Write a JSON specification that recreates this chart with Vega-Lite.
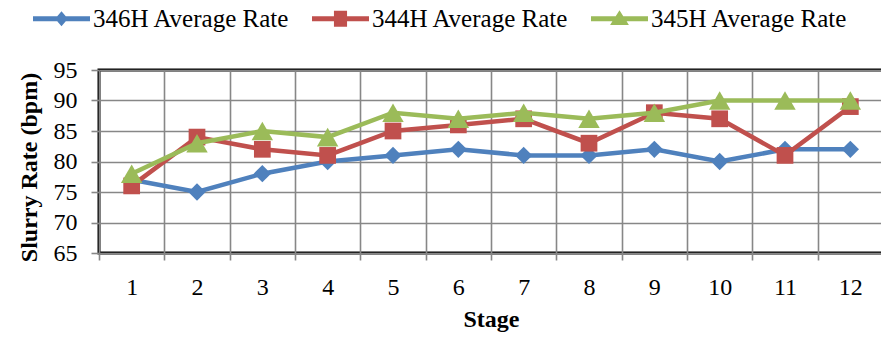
{
  "$schema": "https://vega.github.io/schema/vega-lite/v6.json",
  "width": 784,
  "height": 183,
  "autosize": {"type": "none"},
  "padding": {"left": 99, "top": 70, "right": 0, "bottom": 86},
  "background": "white",
  "config": {
    "font": "'Liberation Serif', serif",
    "view": {"stroke": "black", "strokeWidth": 3},
    "axis": {
      "labelFont": "'Liberation Serif', serif",
      "labelColor": "black",
      "labelFontSize": 24,
      "titleFont": "'Liberation Serif', serif",
      "titleFontWeight": "bold",
      "titleFontSize": 24,
      "titleColor": "black",
      "gridColor": "#878787",
      "gridWidth": 1.6,
      "gridOpacity": 1,
      "tickColor": "#878787",
      "tickWidth": 1.6,
      "domain": false
    }
  },
  "data": {
    "values": [
      {"stage": 1, "series": "346H Average Rate", "rate": 77},
      {"stage": 2, "series": "346H Average Rate", "rate": 75},
      {"stage": 3, "series": "346H Average Rate", "rate": 78},
      {"stage": 4, "series": "346H Average Rate", "rate": 80},
      {"stage": 5, "series": "346H Average Rate", "rate": 81},
      {"stage": 6, "series": "346H Average Rate", "rate": 82},
      {"stage": 7, "series": "346H Average Rate", "rate": 81},
      {"stage": 8, "series": "346H Average Rate", "rate": 81},
      {"stage": 9, "series": "346H Average Rate", "rate": 82},
      {"stage": 10, "series": "346H Average Rate", "rate": 80},
      {"stage": 11, "series": "346H Average Rate", "rate": 82},
      {"stage": 12, "series": "346H Average Rate", "rate": 82},
      {"stage": 1, "series": "344H Average Rate", "rate": 76},
      {"stage": 2, "series": "344H Average Rate", "rate": 84},
      {"stage": 3, "series": "344H Average Rate", "rate": 82},
      {"stage": 4, "series": "344H Average Rate", "rate": 81},
      {"stage": 5, "series": "344H Average Rate", "rate": 85},
      {"stage": 6, "series": "344H Average Rate", "rate": 86},
      {"stage": 7, "series": "344H Average Rate", "rate": 87},
      {"stage": 8, "series": "344H Average Rate", "rate": 83},
      {"stage": 9, "series": "344H Average Rate", "rate": 88},
      {"stage": 10, "series": "344H Average Rate", "rate": 87},
      {"stage": 11, "series": "344H Average Rate", "rate": 81},
      {"stage": 12, "series": "344H Average Rate", "rate": 89},
      {"stage": 1, "series": "345H Average Rate", "rate": 78},
      {"stage": 2, "series": "345H Average Rate", "rate": 83},
      {"stage": 3, "series": "345H Average Rate", "rate": 85},
      {"stage": 4, "series": "345H Average Rate", "rate": 84},
      {"stage": 5, "series": "345H Average Rate", "rate": 88},
      {"stage": 6, "series": "345H Average Rate", "rate": 87},
      {"stage": 7, "series": "345H Average Rate", "rate": 88},
      {"stage": 8, "series": "345H Average Rate", "rate": 87},
      {"stage": 9, "series": "345H Average Rate", "rate": 88},
      {"stage": 10, "series": "345H Average Rate", "rate": 90},
      {"stage": 11, "series": "345H Average Rate", "rate": 90},
      {"stage": 12, "series": "345H Average Rate", "rate": 90}
    ]
  },
  "encoding": {
    "x": {
      "field": "stage",
      "type": "ordinal",
      "bandPosition": 0.5,
      "scale": {"type": "band", "paddingInner": 0, "paddingOuter": 0},
      "axis": {
        "title": "Stage",
        "labelAngle": 0,
        "tickBand": "extent",
        "grid": true,
        "tickSize": 7,
        "labelPadding": 15,
        "titlePadding": 8
      }
    },
    "y": {
      "field": "rate",
      "type": "quantitative",
      "scale": {"domain": [65, 95], "nice": false, "zero": false},
      "axis": {
        "title": "Slurry Rate  (bpm)",
        "values": [65, 70, 75, 80, 85, 90, 95],
        "grid": true,
        "tickSize": 8,
        "labelPadding": 14,
        "titlePadding": 12,
        "titleY": 97
      }
    },
    "color": {
      "field": "series",
      "type": "nominal",
      "scale": {
        "domain": ["346H Average Rate", "344H Average Rate", "345H Average Rate"],
        "range": ["#4F81BD", "#C0504D", "#9BBB59"]
      },
      "legend": {
        "title": null,
        "orient": "none",
        "direction": "horizontal",
        "legendX": -66,
        "legendY": -80,
        "gridAlign": "all",
        "columnPadding": 22,
        "symbolSize": 3249,
        "symbolOffset": 0,
        "labelOffset": 3,
        "labelFont": "'Liberation Serif', serif",
        "labelFontSize": 25,
        "labelColor": "black",
        "labelLimit": 400,
        "encode": {
          "symbols": {
            "update": {
              "fill": {"scale": "color", "field": "value"},
              "stroke": {"value": "transparent"},
              "strokeWidth": {"value": 0},
              "opacity": {"value": 1},
              "shape": {
                "signal": "datum.value === '346H Average Rate' ? 'M-1,-0.09H-0.15L0,-0.26L0.15,-0.09H1V0.09H0.15L0,0.26L-0.15,0.09H-1Z' : datum.value === '344H Average Rate' ? 'M-1,-0.09H-0.23V-0.28H0.23V-0.09H1V0.09H0.23V0.28H-0.23V0.09H-1Z' : 'M-1,-0.09H-0.133L0,-0.3L0.133,-0.09H1V0.09H0.248L0.33,0.22H-0.33L-0.248,0.09H-1Z'"
              }
            }
          }
        }
      }
    }
  },
  "layer": [
    {
      "transform": [{"filter": "datum.series === '346H Average Rate'"}],
      "layer": [
        {"mark": {"type": "line", "strokeWidth": 4.5}},
        {"mark": {"type": "point", "shape": "diamond", "filled": true, "opacity": 1, "size": 300}}
      ]
    },
    {
      "transform": [{"filter": "datum.series === '344H Average Rate'"}],
      "layer": [
        {"mark": {"type": "line", "strokeWidth": 4.5}},
        {"mark": {"type": "point", "shape": "square", "filled": true, "opacity": 1, "size": 280}}
      ]
    },
    {
      "transform": [{"filter": "datum.series === '345H Average Rate'"}],
      "layer": [
        {"mark": {"type": "line", "strokeWidth": 4.5}},
        {"mark": {"type": "point", "shape": "triangle-up", "filled": true, "opacity": 1, "size": 460}}
      ]
    }
  ]
}
